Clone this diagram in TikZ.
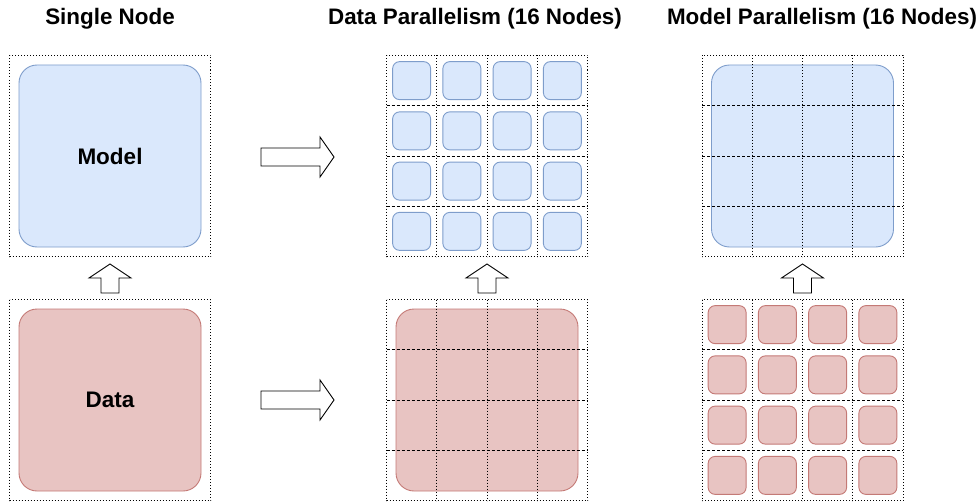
\documentclass[tikz,border=0pt]{standalone}
\usepackage{fontspec}
\setmainfont{Liberation Sans}
\definecolor{bluefill}{HTML}{DAE8FC}
\definecolor{blueline}{HTML}{7E9DCB}
\definecolor{redfill}{HTML}{E8C4C2}
\definecolor{redline}{HTML}{C47A76}
\tikzset{
  frame/.style={draw=black, line width=0.9pt, dash pattern=on 1pt off 2pt},
  vline/.style={draw=black, line width=0.9pt, dash pattern=on 1pt off 2pt},
  hline/.style={draw=black, line width=0.9pt, dash pattern=on 3pt off 2pt},
  bigbox/.style={rounded corners=18pt, line width=0.9pt, minimum width=182pt, minimum height=182pt, inner sep=0pt,
    font=\fontsize{22.5}{26}\selectfont\bfseries},
  smallbox/.style={rounded corners=7pt, line width=0.9pt, minimum width=38pt, minimum height=38pt, inner sep=0pt},
  bluebox/.style={draw=blueline, fill=bluefill},
  redbox/.style={draw=redline, fill=redfill},
  blockarrow/.style={draw=black, fill=white, line width=0.9pt, line join=miter},
  title/.style={anchor=base, font=\fontsize{22.4}{26}\selectfont\bfseries}
}
\begin{document}
\begin{tikzpicture}[x=1pt,y=-1pt]
\useasboundingbox (0,0) rectangle (977,503);
% titles
\node[title] (t1) at (110,25) {Single Node};
\node[title] (t2) at (475,25) {Data Parallelism (16 Nodes)};
\node[title] (t3) at (822,25) {Model Parallelism (16 Nodes)};

% ---------- Single node ----------
\draw[frame] (9.5,55.5) rectangle ++(201,201);
\node[bigbox,bluebox] (model) at (110,156) {Model};
\draw[frame] (9.5,299.5) rectangle ++(201,201);
\node[bigbox,redbox] (data) at (110,400) {Data};

% ---------- Data parallelism ----------
% top: 16 small models
\foreach \i in {0,...,3}{
  \foreach \j in {0,...,3}{
    \node[smallbox,bluebox] (dpm\i\j) at ({386.5+25.125+50.25*\i},{55.5+25.125+50.25*\j}) {};
  }
}
\draw[frame] (386.5,55.5) rectangle ++(201,201);
\foreach \k in {1,2,3}{
  \draw[vline] ({386.5+50.25*\k},55.5) -- ({386.5+50.25*\k},256.5);
  \draw[hline] (386.5,{55.5+50.25*\k}) -- (587.5,{55.5+50.25*\k});
}
% bottom: one big data split
\node[bigbox,redbox] (dpdata) at (487,400) {};
\draw[frame] (386.5,299.5) rectangle ++(201,201);
\foreach \k in {1,2,3}{
  \draw[vline] ({386.5+50.25*\k},299.5) -- ({386.5+50.25*\k},500.5);
  \draw[hline] (386.5,{299.5+50.25*\k}) -- (587.5,{299.5+50.25*\k});
}

% ---------- Model parallelism ----------
\node[bigbox,bluebox] (mpmodel) at (802.5,156) {};
\draw[frame] (702,55.5) rectangle ++(201,201);
\foreach \k in {1,2,3}{
  \draw[vline] ({702+50.25*\k},55.5) -- ({702+50.25*\k},256.5);
  \draw[hline] (702,{55.5+50.25*\k}) -- (903,{55.5+50.25*\k});
}
\foreach \i in {0,...,3}{
  \foreach \j in {0,...,3}{
    \node[smallbox,redbox] (mpd\i\j) at ({702+25.125+50.25*\i},{299.5+25.125+50.25*\j}) {};
  }
}
\draw[frame] (702,299.5) rectangle ++(201,201);
\foreach \k in {1,2,3}{
  \draw[vline] ({702+50.25*\k},299.5) -- ({702+50.25*\k},500.5);
  \draw[hline] (702,{299.5+50.25*\k}) -- (903,{299.5+50.25*\k});
}

% ---------- up arrows ----------
\foreach \cx/\nm in {110/ua, 487/ub, 802.5/uc}{
  \coordinate (\nm) at (\cx,264);
  \draw[blockarrow] (\nm) -- ++(21,14) -- ++(-12,0) -- ++(0,15) -- ++(-18,0) -- ++(0,-15) -- ++(-12,0) -- cycle;
}
% ---------- right arrows ----------
\foreach \cy/\nm in {157/ra, 400/rb}{
  \coordinate (\nm) at (334,\cy);
  \draw[blockarrow] (\nm) -- ++(-14,20) -- ++(0,-11) -- ++(-59,0) -- ++(0,-18) -- ++(59,0) -- ++(0,-11) -- cycle;
}
\end{tikzpicture}
\end{document}
